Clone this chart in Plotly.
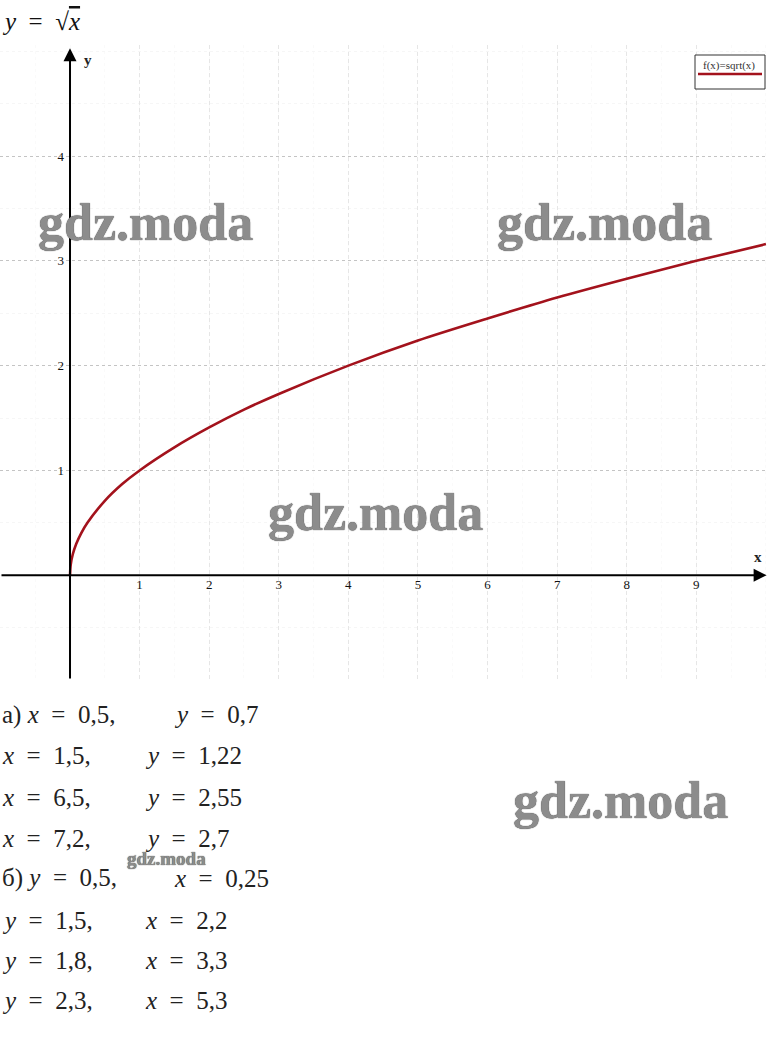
import plotly.graph_objects as go

# ---- data ----
curve_x = [0, 0.01, 0.04, 0.09, 0.16, 0.25, 0.5, 0.75, 1, 1.5, 2, 2.5, 3, 4, 5, 6, 7, 8, 9, 10]
curve_y = [0, 0.1, 0.2, 0.3, 0.4, 0.5, 0.71, 0.87, 1, 1.22, 1.41, 1.58, 1.73, 2, 2.24, 2.45, 2.65, 2.83, 3, 3.16]
x_ticks = [1, 2, 3, 4, 5, 6, 7, 8, 9]
y_ticks = [1, 2, 3, 4]

part_a_x = ["0,5", "1,5", "6,5", "7,2"]
part_a_y = ["0,7", "1,22", "2,55", "2,7"]
part_b_y = ["0,5", "1,5", "1,8", "2,3"]
part_b_x = ["0,25", "2,2", "3,3", "5,3"]

legend_label = "f(x)=sqrt(x)"
watermark = "gdz.moda"

W, H = 768, 1048
PLOT_TOP, PLOT_BOTTOM = 45, 680
SERIF = "Liberation Serif, Times New Roman, serif"
RED = "#a3121c"
EQ = "\u2002=\u2002"


def px(x):
    return x / W


def py(y):
    return (PLOT_BOTTOM - y) / (PLOT_BOTTOM - PLOT_TOP)


def label(x, y, text, size, color="#222", xanchor="center", **kw):
    fig.add_annotation(x=px(x), y=py(y), xref="paper", yref="paper", text=text,
                       xanchor=xanchor, yanchor="middle", showarrow=False,
                       font=dict(family=SERIF, size=size, color=color, **kw))


fig = go.Figure()
fig.add_trace(go.Scatter(x=curve_x, y=curve_y, mode="lines",
                         line=dict(color=RED, width=2.6, shape="spline", smoothing=0.8),
                         showlegend=False, hoverinfo="skip"))

x_range = [-1.006, 10.03]
y_range = [-1.0, 5.06]

fig.update_layout(
    width=W, height=H, autosize=False,
    margin=dict(l=0, r=0, t=PLOT_TOP, b=H - PLOT_BOTTOM, pad=0),
    paper_bgcolor="white", plot_bgcolor="white",
    showlegend=False,
    xaxis=dict(range=x_range, tickmode="array", tickvals=x_ticks,
               ticktext=[str(v) for v in x_ticks],
               showgrid=True, gridcolor="#e6e6e6", gridwidth=1, griddash="4px,3px",
               zeroline=False, showline=False, ticks="",
               anchor="free", position=py(575),
               tickfont=dict(family=SERIF, size=13, color="#111"),
               minor=dict(dtick=0.5, showgrid=True, gridcolor="#fafafa", griddash="dot"),
               fixedrange=True),
    yaxis=dict(range=y_range, tickmode="array", tickvals=y_ticks,
               ticktext=[str(v) for v in y_ticks],
               showgrid=True, gridcolor="#c4c4c4", gridwidth=1, griddash="3px,3px",
               zeroline=False, showline=False, ticks="",
               anchor="free", position=px(70), ticklabelstandoff=6,
               tickfont=dict(family=SERIF, size=13, color="#111"),
               minor=dict(dtick=0.5, showgrid=True, gridcolor="#f6f6f6", griddash="dot"),
               fixedrange=True),
)

# axes with arrows
fig.add_annotation(x=x_range[1] - 0.02, y=0, ax=x_range[0], ay=0, xref="x", yref="y",
                   axref="x", ayref="y", text="", showarrow=True, arrowhead=2,
                   arrowsize=1.3, arrowwidth=2, arrowcolor="black")
fig.add_annotation(x=0, y=y_range[1] - 0.03, ax=0, ay=y_range[0], xref="x", yref="y",
                   axref="x", ayref="y", text="", showarrow=True, arrowhead=2,
                   arrowsize=1.3, arrowwidth=2, arrowcolor="black")

# axis names
label(758, 557, "<b>x</b>", 15)
label(88, 60, "<b>y</b>", 15)

# legend box
fig.add_shape(type="rect", xref="paper", yref="paper", x0=px(695), x1=px(765),
              y0=py(89), y1=py(55), line=dict(color="#333", width=1), fillcolor="white")
label(729, 65, legend_label, 11, color="#333")
fig.add_shape(type="line", xref="paper", yref="paper", x0=px(698), x1=px(762),
              y0=py(74), y1=py(74), line=dict(color=RED, width=2.5))

# title
label(0, 22, "<i>y</i>" + EQ + "√<span style='text-decoration:overline'><i>x</i></span>",
      25, color="#111", xanchor="left")

# answer lines
rows_y = [715, 755, 797, 838, 878, 920, 960, 1000]
lines = []
for i in range(4):
    prefix = "а) " if i == 0 else ""
    lines.append((prefix + "<i>x</i>" + EQ + part_a_x[i] + ",",
                  "<i>y</i>" + EQ + part_a_y[i], 172 if i == 0 else 143))
for i in range(4):
    prefix = "б) " if i == 0 else ""
    lines.append((prefix + "<i>y</i>" + EQ + part_b_y[i] + ",",
                  "<i>x</i>" + EQ + part_b_x[i], 172 if i == 0 else 143))
for (left, right, rx), yy in zip(lines, rows_y):
    label(0, yy, left, 25, xanchor="left")
    label(rx, yy, right, 25, xanchor="left")

# watermarks
for cx, cy, size in [(145, 222, 52), (604, 222, 52), (375, 512, 52), (620, 800, 52), (166, 858, 19)]:
    label(cx, cy, "<b>" + watermark + "</b>", size, color="#8c8c8c",
          shadow="0px 0px 1px #222")

fig.write_html("out.html", config={"displayModeBar": False, "staticPlot": True})

with open("out.html", encoding="utf-8") as f:
    html = f.read()
html = html.replace("<head>", "<head><style>html,body{margin:0;padding:0;overflow:hidden;}</style>", 1)
with open("out.html", "w", encoding="utf-8") as f:
    f.write(html)
